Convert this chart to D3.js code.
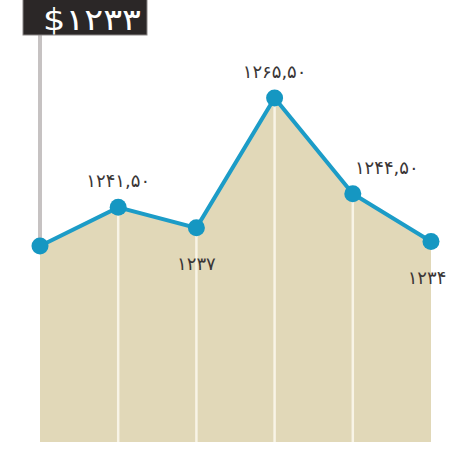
<!DOCTYPE html>
<html>
<head>
<meta charset="utf-8">
<script src="https://cdn.jsdelivr.net/npm/d3@7"></script>
<style>
  body { margin: 0; background: #fff; }
  svg { display: block; }
  text { font-family: "DejaVu Sans", sans-serif; }
</style>
</head>
<body>
<svg id="svg1" width="456" height="449"></svg>
<script>
var width = 456;
var height = 449;

// values
var values = [1233, 1241.5, 1237, 1265.5, 1244.5, 1234];
var labels = ["", "۱۲۴۱,۵۰", "۱۲۳۷", "۱۲۶۵,۵۰", "۱۲۴۴,۵۰", "۱۲۳۴"];
var labelSide = ["", "above", "below", "above", "above", "below"];
var labelShift = [0, 0, 0, 0, 34, -4];
var calloutText = "$۱۲۳۳";

var svg = d3.select('#svg1').append('g');

var x = d3.scalePoint()
    .domain(d3.range(values.length))
    .range([40, 431]);

var y = d3.scaleLinear()
    .domain([1190, 1265.5])
    .range([442, 98]);

var area = d3.area()
    .x(function (d, i) { return x(i); })
    .y0(y(1190))
    .y1(function (d) { return y(d); });

var line = d3.line()
    .x(function (d, i) { return x(i); })
    .y(function (d) { return y(d); });

svg.append('path')
    .datum(values)
    .attr('d', area)
    .attr('fill', '#e1d8b8');

// white drop lines under the inner points
svg.selectAll('.drop')
    .data(values.slice(1, values.length - 1))
    .enter()
    .append('line')
    .attr('x1', function (d, i) { return x(i + 1); })
    .attr('x2', function (d, i) { return x(i + 1); })
    .attr('y1', function (d) { return y(d); })
    .attr('y2', y(1190))
    .attr('stroke', '#f8f4e6')
    .attr('stroke-width', 2.5);

// callout for the first value
svg.append('line')
    .attr('x1', x(0)).attr('x2', x(0))
    .attr('y1', 35).attr('y2', y(values[0]))
    .attr('stroke', '#c6c2c2')
    .attr('stroke-width', 4);

svg.append('rect')
    .attr('x', 23).attr('y', -2)
    .attr('width', 124).attr('height', 37)
    .attr('fill', '#2b2727')
    .attr('stroke', '#8a8686')
    .attr('stroke-width', 1);

svg.append('text')
    .attr('x', 43).attr('y', 30)
    .attr('textLength', 98)
    .attr('lengthAdjust', 'spacingAndGlyphs')
    .attr('font-size', 30)
    .attr('fill', '#ffffff')
    .text(calloutText);

svg.append('path')
    .datum(values)
    .attr('d', line)
    .attr('fill', 'none')
    .attr('stroke', '#1c9cc7')
    .attr('stroke-width', 4);

svg.selectAll('.dot')
    .data(values)
    .enter()
    .append('circle')
    .attr('cx', function (d, i) { return x(i); })
    .attr('cy', function (d) { return y(d); })
    .attr('r', 8.5)
    .attr('fill', '#1597c2');

svg.selectAll('.lbl')
    .data(values)
    .enter()
    .append('text')
    .attr('x', function (d, i) { return x(i) + labelShift[i]; })
    .attr('y', function (d, i) { return labelSide[i] == 'above' ? y(d) - 20 : y(d) + 42; })
    .attr('text-anchor', 'middle')
    .attr('font-size', 18)
    .attr('letter-spacing', 1.5)
    .attr('fill', '#3a3636')
    .text(function (d, i) { return labels[i]; });
</script>
</body>
</html>
